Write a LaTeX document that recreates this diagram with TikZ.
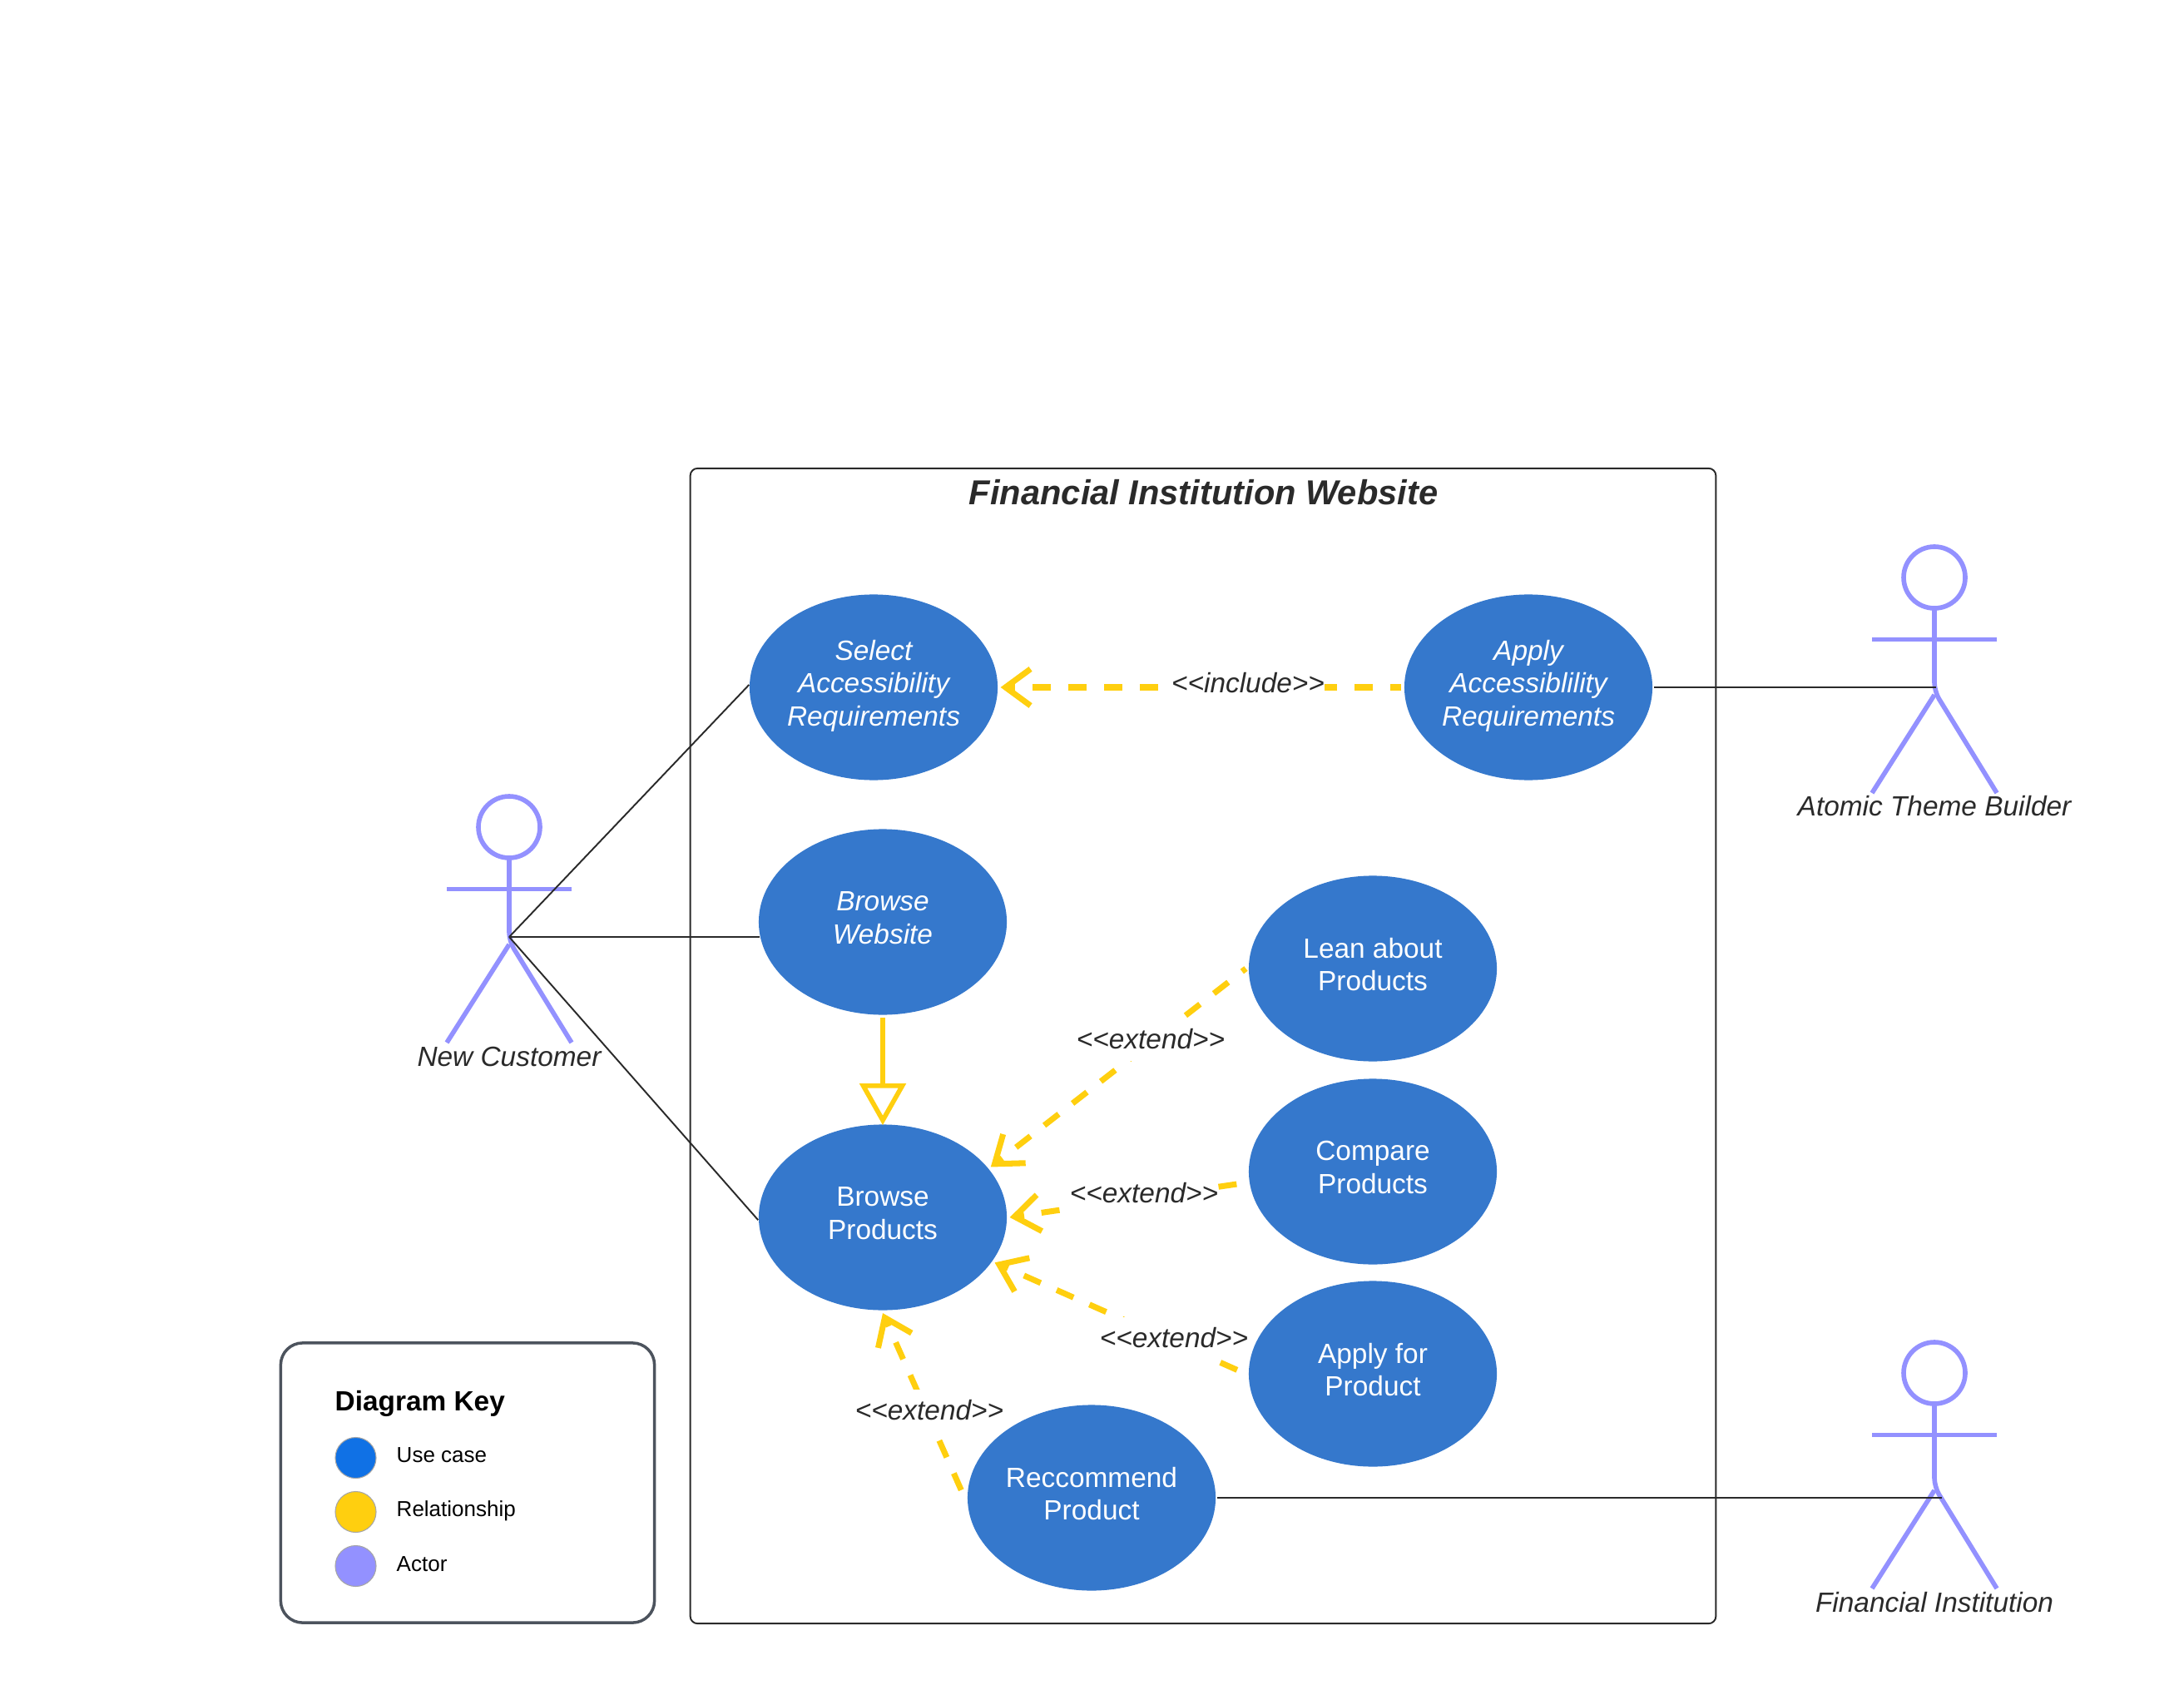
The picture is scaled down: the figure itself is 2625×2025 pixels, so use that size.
\documentclass[tikz,border=0pt]{standalone}
\usepackage{fontspec}
\setmainfont{Liberation Sans}
\usetikzlibrary{arrows.meta,shapes.geometric}
\definecolor{ucblue}{HTML}{3578CC}
\definecolor{relyellow}{HTML}{FFCF0F}
\definecolor{actorblue}{HTML}{9391FF}
\definecolor{keyblue}{HTML}{1071E5}
\definecolor{keyedge}{HTML}{4C535D}
\definecolor{inkdark}{HTML}{2A2A2A}
\newcommand{\ucfont}{\fontsize{9.5}{11.25}\selectfont}
\tikzset{
  usecase/.style={ellipse,fill=ucblue,text=white,minimum width=2.98cm,minimum height=2.23cm,inner sep=0pt,outer sep=1pt,align=center,font=\ucfont,execute at end node={\rule[-3pt]{0pt}{3pt}}},
  usecaseit/.style={usecase,font=\ucfont\itshape},
  thinline/.style={draw=inkdark,line width=0.55pt},
  dashline/.style={draw=relyellow,line width=2pt,dash pattern=on 0.22cm off 0.21cm,dash phase=0.14cm,{Straight Barb[length=0.3cm,width=0.44cm]}-},
  genline/.style={draw=relyellow,line width=1.6pt,shorten >=-1.2pt,-{Triangle[open,fill=white,length=0.5cm,width=0.55cm]}},
  rellabel/.style={fill=white,inner xsep=0pt,inner ysep=0pt,minimum height=0.51cm,text=inkdark,font=\ucfont\itshape},
  actorlabel/.style={anchor=base,text=inkdark,font=\ucfont\itshape},
  keydot/.style={circle,minimum size=0.49cm,inner sep=0pt,draw=black!35,line width=0.3pt},
  keytext/.style={anchor=west,inner sep=0pt,font=\fontsize{7.4}{9}\selectfont},
  actor/.pic={
    \draw [actorblue,line width=1.6pt] (0,0) circle (37) ;
    \draw [actorblue,line width=1.6pt] (-75,74.5) -- (75,74.5) ;
    \draw [actorblue,line width=1.6pt,rounded corners=3pt] (0,37) -- (0,137) -- (75,259) ;
    \draw [actorblue,line width=1.6pt] (0,141) -- (-75,259) ;
  }
}
\begin{document}
\begin{tikzpicture}[x=0.01cm,y=-0.01cm]
\useasboundingbox (0,-1) rectangle (2625,2024) ;
\node (sysbox) [draw=inkdark,line width=0.55pt,rounded corners=2.5pt,minimum width=12.32cm,minimum height=13.875cm] at (1446,1256) {} ;
\node (systitle) [text=inkdark,font=\fontsize{11.83}{14}\selectfont\bfseries\itshape] at (1446.5,590.5) {Financial Institution Website} ;
\node (sel) [usecaseit] at (1050,825) {Select\\Accessibility\\Requirements} ;
\node (app) [usecaseit] at (1837,825) {Apply\\Accessiblility\\Requirements} ;
\node (bw) [usecaseit] at (1061,1107) {Browse\\Website} ;
\node (bp) [usecase] at (1061,1462) {Browse\\Products} ;
\node (lean) [usecase] at (1650,1163) {Lean about\\Products} ;
\node (cmp) [usecase] at (1650,1407) {Compare\\Products} ;
\node (apf) [usecase] at (1650,1650) {Apply for\\Product} ;
\node (rec) [usecase] at (1312,1799) {Reccommend\\Product} ;
\pic at (612,993) {actor} ;
\pic at (2325,693) {actor} ;
\pic at (2325,1649) {actor} ;
\node (nclabel) [actorlabel] at (612,1280) {New Customer} ;
\node (atlabel) [actorlabel] at (2325,979) {Atomic Theme Builder} ;
\node (filabel) [actorlabel] at (2325,1936) {Financial Institution} ;
\coordinate (nchub) at (612,1125) ;
\coordinate (athub) at (2327,825) ;
\coordinate (fihub) at (2334,1799) ;
\draw [thinline,shorten >=-1.2pt] (nchub) to (sel.west) ;
\draw [thinline,shorten >=-1.2pt] (nchub) to (nchub -| bw.west) ;
\draw [thinline,shorten >=-1.2pt] (nchub) to (bp.west) ;
\draw [thinline,shorten <=-0.5pt] (app.east) to (athub) ;
\draw [thinline,shorten <=-0.5pt] (rec.east) to (fihub) ;
\draw [genline] (bw.south) to (bp.north) ;
\draw [dashline] (sel.east) to (app.west) ;
\draw [dashline] (bp.25) to (lean.west) ;
\draw [dashline] (bp.east) to (cmp.185) ;
\draw [dashline] (bp.-22) to (apf.west) ;
\draw [dashline] (bp.south) to (rec.west) ;
\node (lblinc) [rellabel] at (1500,820) {<{}<include>{}>} ;
\node (lbllean) [rellabel] at (1383,1248) {<{}<extend>{}>} ;
\node (lblcmp) [rellabel] at (1375,1433) {<{}<extend>{}>} ;
\node (lblapf) [rellabel] at (1411,1607) {<{}<extend>{}>} ;
\node (lblrec) [rellabel] at (1117,1694) {<{}<extend>{}>} ;
\node (keybox) [draw=keyedge,line width=1pt,rounded corners=7.5pt,minimum width=4.49cm,minimum height=3.36cm] at (562,1781) {} ;
\node (keytitle) [anchor=west,inner sep=0pt,font=\fontsize{9.5}{11}\selectfont\bfseries] at (402,1685.5) {Diagram Key} ;
\node (keyuc) [keydot,fill=keyblue] at (427.5,1751) {} ;
\node (keyrel) [keydot,fill=relyellow] at (427.5,1816) {} ;
\node (keyact) [keydot,fill=actorblue] at (427.5,1881) {} ;
\node (keyuctext) [keytext] at (476,1748) {Use case} ;
\node (keyreltext) [keytext] at (476,1815) {Relationship} ;
\node (keyacttext) [keytext] at (476,1879) {Actor} ;
\end{tikzpicture}
\end{document}
